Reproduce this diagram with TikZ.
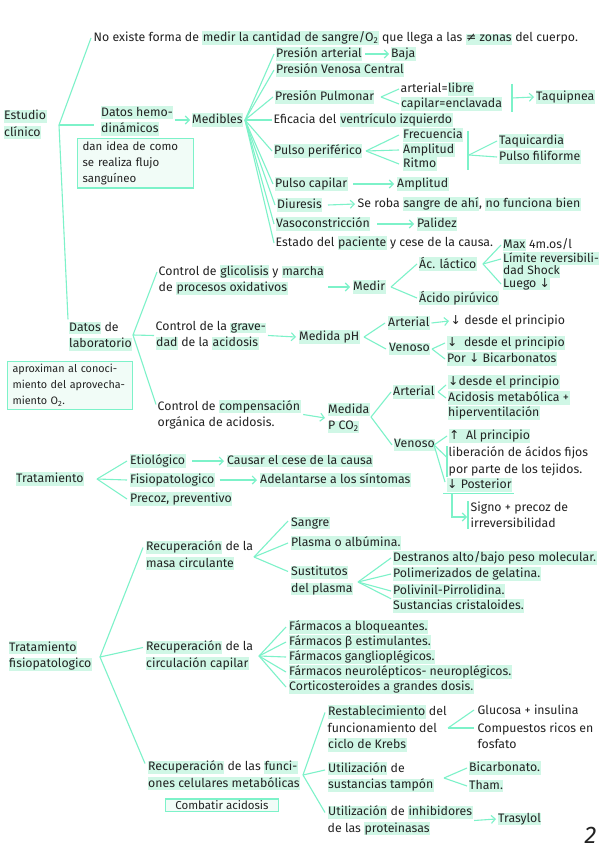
\documentclass[tikz,border=0pt]{standalone}
\usepackage{fontspec}
\setmainfont{Fira Sans}
\newfontfamily\symf{DejaVu Sans}
\usetikzlibrary{arrows.meta,calc}
\definecolor{mint}{HTML}{7DF2C9}
\definecolor{hlc}{HTML}{D0F7E6}
\definecolor{notefill}{HTML}{F1FCF7}
\definecolor{ink}{HTML}{222222}
\setlength{\fboxsep}{0.5pt}
\newcommand{\hl}[1]{\colorbox{hlc}{\rule[-2.5pt]{0pt}{9.5pt}#1}}
\newcommand{\mydn}{{\symf ↓}}
\newcommand{\myup}{{\symf ↑}}
\newcommand{\mf}{\fontsize{12.3}{16.5}\selectfont}
\tikzset{
 t/.style={anchor=west, inner sep=0.5pt, align=left, text=ink, font=\mf},
 ln/.style={draw=mint, line width=1.1pt},
 ar/.style={ln, -{Straight Barb[length=4pt,width=8pt]}},
 note/.style={draw=mint, fill=notefill, line width=1.1pt, anchor=north west, inner xsep=5pt, inner ysep=3pt, align=left, text=ink, font=\fontsize{11.5}{16}\selectfont},
}
\begin{document}
\begin{tikzpicture}[x=1pt,y=-1pt]
\useasboundingbox (0,0) rectangle (599,848);
\fill[white] (0,0) rectangle (599,848);

% ---------- Estudio clinico ----------
\node[t] (estudio) at (3,124.5) {\hl{Estudio}\\\hl{clínico}};
\coordinate (eO) at (59,125);
\node[t] (noex) at (93,38) {No existe forma de \hl{medir la cantidad de sangre/O\textsubscript{2}} que llega a las \hl{{\symf ≠} zonas} del cuerpo.};
\node[t] (hemo) at (100,121) {\hl{Datos hemo-}\\\hl{dinámicos}};
\node[t] (medib) at (191,120) {\hl{Medibles}};
\node[note, text width=106pt] (flujo) at (77,138) {dan idea de como\\se realiza flujo\\sanguíneo};
\node[t] (lab) at (68,336.5) {\hl{Datos} de\\\hl{laboratorio}};

\draw[ln] (eO) -- ([xshift=-2pt]noex.west);
\draw[ln] (eO) -- ($(hemo.west)+(-6,4)$);
\draw[ln] (eO) -- ($(lab.north west)+(0,-2)$);
\draw[ar] ($(hemo.east)+(1,-1)$) -- ([xshift=-1pt]medib.west);

\coordinate (mO) at (245,120);
\node[t] (pa) at (275,54) {\hl{Presión arterial}};
\node[t] (baja) at (390,54) {\hl{Baja}};
\node[t] (pvc) at (275,70) {\hl{Presión Venosa Central}};
\node[t] (pp) at (274,97) {\hl{Presión Pulmonar}};
\node[t] (libre) at (400,89) {arterial=\hl{libre}};
\node[t] (encl) at (400,104) {\hl{capilar=enclavada}};
\node[t] (taqp) at (535,97) {\hl{Taquipnea}};
\node[t] (efi) at (273,120) {Eficacia del \hl{ventrículo izquierdo}};
\node[t] (pper) at (273,151) {\hl{Pulso periférico}};
\node[t] (frec) at (402,135) {\hl{Frecuencia}};
\node[t] (ampl) at (402,150) {\hl{Amplitud}};
\node[t] (ritmo) at (402,164) {\hl{Ritmo}};
\node[t] (taqc) at (498,141) {\hl{Taquicardia}};
\node[t] (filif) at (498,157) {\hl{Pulso filiforme}};
\node[t] (pcap) at (274,184) {\hl{Pulso capilar}};
\node[t] (ampl2) at (396,184) {\hl{Amplitud}};
\node[t] (diu) at (276,205) {\hl{Diuresis}};
\node[t] (roba) at (357,204) {Se roba \hl{sangre de ahí}, \hl{no funciona bien}};
\node[t] (vaso) at (275,224) {\hl{Vasoconstricción}};
\node[t] (palid) at (416,224) {\hl{Palidez}};
\node[t] (estado) at (275,243) {Estado del \hl{paciente} y cese de la causa.};

\foreach \n in {pa,pvc,pp,efi,pper,pcap,diu,vaso,estado}
  \draw[ln] (mO) -- ([xshift=-1pt]\n.west);
\draw[ar] ([xshift=2pt]pa.east) -- ([xshift=-1pt]baja.west);
\coordinate (ppO) at (381,97);
\draw[ln] (ppO) -- ([xshift=-1pt]libre.west);
\draw[ln] (ppO) -- ([xshift=-1pt]encl.west);
\coordinate (pb1) at (512,84);
\coordinate (pb2) at (512,112);
\coordinate (pbm) at (512,98);
\draw[ln] (pb1) -- (pb2);
\draw[ar] (pbm) -- ([xshift=-1pt]taqp.west);
\coordinate (ppeO) at (366,151);
\foreach \n in {frec,ampl,ritmo}
  \draw[ln] (ppeO) -- ([xshift=-3pt]\n.west);
\coordinate (pq1) at (468,131);
\coordinate (pq2) at (468,170);
\coordinate (pqO) at (469,155);
\draw[ln] (pq1) -- (pq2);
\draw[ln] (pqO) -- ([xshift=-1pt]taqc.west);
\draw[ln] (pqO) -- ([xshift=-1pt]filif.west);
\draw[ar] ([xshift=5pt]pcap.east) -- ([xshift=-2pt]ampl2.west);
\draw[ar] ([xshift=5pt]diu.east) -- ([xshift=-2pt]roba.west);
\draw[ar] ([xshift=6pt]vaso.east) -- ([xshift=-2pt]palid.west);

% ---------- Datos de laboratorio ----------
\node[note, text width=115pt, font=\fontsize{10.8}{16}\selectfont] (aprox) at (7,361) {aproximan al conoci-\\miento del aprovecha-\\miento O\textsubscript{2}.};
\coordinate (lO) at (133,335);
\node[t] (glic) at (158,280) {Control de \hl{glicolisis} y \hl{marcha}\\de \hl{procesos oxidativos}};
\node[t] (grav) at (155,335.5) {Control de la \hl{grave-}\\\hl{dad} de la \hl{acidosis}};
\node[t] (comp) at (157,414.5) {Control de \hl{compensación}\\orgánica de acidosis.};
\draw[ln] (lO) -- ($(glic.west)+(-1,-8)$);
\draw[ln] (lO) -- ($(grav.west)+(-1,0)$);
\draw[ln] (lO) -- ($(comp.west)+(-1,-10)$);

\node[t] (medir) at (352,287) {\hl{Medir}};
\coordinate (glout) at (328,287);
\draw[ar] (glout) -- ([xshift=-2pt]medir.west);
\coordinate (meO) at (391,287);
\node[t] (acl) at (418,264) {\hl{Ác. láctico}};
\node[t] (acp) at (418,298) {\hl{Ácido pirúvico}};
\draw[ln] (meO) -- ([xshift=-1pt]acl.west);
\draw[ln] (meO) -- ([xshift=-1pt]acp.west);
\coordinate (aclO) at (483,264);
\node[t] (max) at (502,245) {\hl{Max} 4m.os/l};
\node[t, font=\fontsize{12}{12.5}\selectfont] (lim) at (502,265) {\hl{Límite reversibili-}\\\hl{dad Shock}};
\node[t] (luego) at (502,284) {\hl{Luego \mydn}};
\draw[ln] (aclO) -- ([xshift=-1pt]max.west);
\draw[ln] (aclO) -- ($(lim.west)+(-1,-6)$);
\draw[ln] (aclO) -- ([xshift=-1pt]luego.west);

\node[t] (mph) at (298,337) {\hl{Medida pH}};
\draw[ar] ([xshift=1pt]grav.east) -- ([xshift=-2pt]mph.west);
\coordinate (mphO) at (364,337);
\node[t] (art1) at (387,323) {\hl{Arterial}};
\node[t] (ven1) at (388,349) {\hl{Venoso}};
\draw[ln] (mphO) -- ([xshift=-2pt]art1.west);
\draw[ln] (mphO) -- ([xshift=-2pt]ven1.west);
\node[t] (d1) at (450,321) {\mydn{} desde el principio};
\node[t] (d2) at (446,343) {\hl{\mydn{}\ \ desde el principio}};
\node[t] (d3) at (446,359) {\hl{Por \mydn{} Bicarbonatos}};
\draw[ar] ([xshift=1pt]art1.east) -- ([xshift=-1pt]d1.west);
\coordinate (v1O) at (432,349);
\draw[ln] (v1O) -- ([xshift=-1pt]d2.west);
\draw[ln] (v1O) -- ([xshift=-1pt]d3.west);

\node[t] (pco) at (327,418) {\hl{Medida}\\\hl{P CO\textsubscript{2}}};
\draw[ar] ([xshift=2pt]comp.east) -- ([xshift=-2pt]pco.west);
\coordinate (pcoO) at (371,417);
\node[t] (art2) at (392,392) {\hl{Arterial}};
\node[t] (ven2) at (393,445) {\hl{Venoso}};
\draw[ln] (pcoO) -- ([xshift=-1pt]art2.west);
\draw[ln] (pcoO) -- ([xshift=-1pt]ven2.west);
\coordinate (a2O) at (438,392);
\node[t] (a1) at (447,382) {\hl{\mydn desde el principio}};
\node[t] (a2) at (447,398) {\hl{Acidosis metabólica +}};
\node[t] (a3) at (447,413) {\hl{hiperventilación}};
\draw[ln] (a2O) -- ($(a1.west)+(-1,3)$);
\draw[ln] (a2O) -- ([xshift=-1pt]a2.west);

\coordinate (v2O) at (434,445);
\node[t] (v1) at (448,436) {\hl{\myup{}\ \ Al principio}};
\node[t] (v2) at (448,461.5) {liberación de ácidos fijos\\por parte de los tejidos.};
\node[t] (v3) at (446,485) {\hl{\mydn{} Posterior}};
\draw[ln] (v2O) -- ($(v1.west)+(-1,0)$);
\draw[ln] (v2O) -- ($(v2.west)+(-1,-4)$);
\draw[ln] (v2O) -- ($(v3.west)+(-1,-3)$);
\draw[ln] ($(v2.north west)+(-1,0)$) -- ($(v2.south west)+(-1,0)$);
\draw[ln] ($(v3.south west)+(-3,1)$) -- ($(v3.south east)+(1,1)$);
\node[t] (signo) at (470,515) {Signo + precoz de\\irreversibilidad};
\coordinate (uO) at (452,493);
\draw[ar] (uO) |- ($(signo.west)+(-3,2)$);
\draw[ln] ($(signo.north west)+(-2,0)$) -- ($(signo.south west)+(-2,0)$);

% ---------- Tratamiento ----------
\node[t] (trat) at (15,479) {\hl{Tratamiento}};
\coordinate (tO) at (97,479);
\node[t] (eti) at (129,461) {\hl{Etiológico}};
\node[t] (fis) at (129,480) {\hl{Fisiopatologico}};
\node[t] (prec) at (129,499) {\hl{Precoz, preventivo}};
\node[t] (caus) at (226,461) {\hl{Causar el cese de la causa}};
\node[t] (adel) at (259,480) {\hl{Adelantarse a los síntomas}};
\foreach \n in {eti,fis,prec}
  \draw[ln] (tO) -- ([xshift=-2pt]\n.west);
\draw[ar] ([xshift=6pt]eti.east) -- ([xshift=-2pt]caus.west);
\draw[ar] ([xshift=4pt]fis.east) -- ([xshift=-2pt]adel.west);

% ---------- Tratamiento fisiopatologico ----------
\node[t] (tf) at (8,656) {\hl{Tratamiento}\\\hl{fisiopatologico}};
\coordinate (tfO) at (100,657);
\node[t] (rmasa) at (145,555.5) {\hl{Recuperación} de la\\\hl{masa circulante}};
\node[t] (rcirc) at (145,655.5) {\hl{Recuperación} de la\\\hl{circulación capilar}};
\node[t] (rfun) at (147,775.5) {\hl{Recuperación} de las \hl{funci-}\\\hl{ones celulares metabólicas}};
\node[note, anchor=center, inner ysep=1.5pt, minimum width=113pt] (comb) at (222,805) {Combatir acidosis};
\draw[ln] (tfO) -- ($(rmasa.west)+(-2,-8)$);
\draw[ln] (tfO) -- ($(rcirc.west)+(-2,-8)$);
\draw[ln] (tfO) -- ($(rfun.west)+(-2,-12)$);

\coordinate (rmO) at (254,557);
\node[t] (sangre) at (290,523) {\hl{Sangre}};
\node[t] (plasma) at (290,543) {\hl{Plasma o albúmina.}};
\node[t] (sust) at (290,580.5) {\hl{Sustitutos}\\\hl{del plasma}};
\draw[ln] (rmO) -- ($(sangre.west)+(-2,-2)$);
\draw[ln] (rmO) -- ([xshift=-2pt]plasma.west);
\draw[ln] (rmO) -- ($(sust.west)+(-2,-9)$);
\coordinate (sO) at (358,582);
\node[t] (des) at (392,558) {\hl{Destranos alto/bajo peso molecular.}};
\node[t] (pol) at (392,574) {\hl{Polimerizados de gelatina.}};
\node[t] (poli) at (392,591) {\hl{Polivinil-Pirrolidina.}};
\node[t] (sus) at (392,606) {\hl{Sustancias cristaloides.}};
\draw[ln] (sO) -- ([xshift=-1pt]des.west);
\draw[ln] (sO) -- ([xshift=-1pt]pol.west);
\draw[ln] (sO) -- ([xshift=-1pt]poli.west);
\draw[ln] (sO) -- ([xshift=-1pt]sus.north west);

\coordinate (rcO) at (259,656);
\node[t] (f1) at (288,627) {\hl{Fármacos a bloqueantes.}};
\node[t] (f2) at (288,642) {\hl{Fármacos β estimulantes.}};
\node[t] (f3) at (288,657) {\hl{Fármacos ganglioplégicos.}};
\node[t] (f4) at (288,672) {\hl{Fármacos neurolépticos- neuroplégicos.}};
\node[t] (f5) at (288,687) {\hl{Corticosteroides a grandes dosis.}};
\foreach \n in {f1,f2,f3,f4,f5}
  \draw[ln] (rcO) -- ([xshift=-2pt]\n.west);

\coordinate (rfO) at (303,775);
\node[t] (rest) at (327,728.5) {\hl{Restablecimiento} del\\funcionamiento del\\\hl{ciclo de Krebs}};
\node[t] (util) at (327,777) {\hl{Utilización} de\\\hl{sustancias tampón}};
\node[t] (inh) at (327,820.5) {\hl{Utilización} de \hl{inhibidores}\\de las \hl{proteinasas}};
\draw[ln] (rfO) -- ($(rest.west)+(-2,-16)$);
\draw[ln] (rfO) -- ($(util.west)+(-2,-7)$);
\draw[ln] (rfO) -- ($(inh.west)+(-2,-8)$);
\coordinate (reO) at (448,728);
\node[t] (glu) at (477,710) {Glucosa + insulina};
\node[t] (cpr) at (477,736) {Compuestos ricos en\\fosfato};
\draw[ln] (reO) -- ([xshift=-3pt]glu.west);
\draw[ln] (reO) -- ($(cpr.west)+(-3,-8)$);
\coordinate (uO2) at (444,778);
\node[t] (bic) at (468,768) {\hl{Bicarbonato.}};
\node[t] (tham) at (468,786) {\hl{Tham.}};
\draw[ln] (uO2) -- ([xshift=-1pt]bic.west);
\draw[ln] (uO2) -- ([xshift=-1pt]tham.west);
\node[t] (trasy) at (497,819) {\hl{Trasylol}};
\draw[ar] ([xshift=1pt]inh.east) -- ([xshift=-1pt]trasy.west);

\node[t, font=\fontsize{24}{24}\selectfont\itshape] (pg) at (584,835) {2};
\end{tikzpicture}
\end{document}
